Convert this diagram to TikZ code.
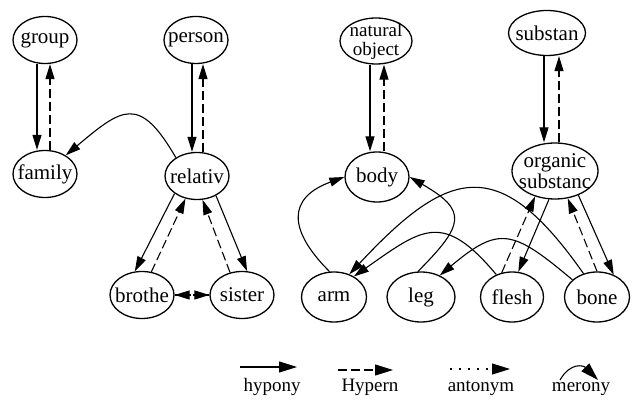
\documentclass[tikz,border=0pt]{standalone}
\usepackage{fontspec}
\setmainfont{Liberation Serif}
\usetikzlibrary{arrows.meta, shapes.geometric}

\newcommand{\cname}[1]{\makebox[0pt]{#1}}

\begin{document}
\begin{tikzpicture}[x=1pt, y=1pt, line width=1.1pt, >={Triangle[length=15pt, width=9pt]},
    hyper/.style={dash pattern=on 9pt off 4pt},
    anto/.style={dash pattern=on 2pt off 7pt},
    legendtext/.style={font=\fontsize{19}{19}\selectfont, anchor=base, inner sep=0pt},
    bigtip/.style={>={Triangle[length=18pt, width=11pt]}}]
  \useasboundingbox (0,0) rectangle (636,399);

  % Concepts
  \begin{scope}[every node/.style={draw, shape=ellipse, line width=1.3pt, inner sep=0pt, minimum width=64pt, minimum height=47pt, align=center, font=\fontsize{21}{21}\selectfont}]

    \node (group)   at (45,359)  {\cname{group}};
    \node (person)  at (196,359) {\cname{person}};
    \node (family)  at (45,225)  {\cname{family}};
    \node (relativ) at (197,223) {\cname{relativ}};
    \node (brothe)  at (142,104) {\cname{brothe}};
    \node (sister)  at (242,104) {\cname{sister}};

    \node[minimum width=72pt, minimum height=46pt, inner ysep=-6pt, font=\fontsize{19}{19}\selectfont] (natobj) at (376,358) {\cname{natural}\\\cname{object}};
    \node[minimum height=50pt] (body) at (377,222) {\cname{body}};
    \node[minimum width=77pt, minimum height=45pt] (substan) at (547,366) {\cname{substan}};
    \node[minimum width=86pt, minimum height=56pt] (organic) at (555,228) {\cname{organic}\\\cname{substanc}};

    \node[minimum width=65pt, minimum height=50pt] (arm)   at (334,102) {\cname{arm}};
    \node[minimum width=68pt, minimum height=50pt] (leg)   at (421,102) {\cname{leg}};
    \node[minimum width=63pt, minimum height=50pt] (flesh) at (512,102) {\cname{flesh}};
    \node[minimum width=65pt, minimum height=50pt] (bone)  at (597,102) {\cname{bone}};

  \end{scope}

  % Hyponym down, hypernym up
  \draw ([xshift=-8pt]group.south) edge[->] ([xshift=-8pt]family.north);
  \draw ([xshift=5pt]family.north) edge[->, hyper] ([xshift=5pt]group.south);

  \draw ([xshift=-4pt]person.south) edge[->] ([xshift=-5pt]relativ.north);
  \draw ([xshift=6pt]relativ.north) edge[->, hyper] ([xshift=7pt]person.south);

  \draw ([xshift=-6pt]natobj.south) edge[->] ([xshift=-7pt]body.north);
  \draw ([xshift=7pt]body.north) edge[->, hyper] ([xshift=8pt]natobj.south);

  \draw ([xshift=-3pt]substan.south) edge[->] ([xshift=-11pt]organic.north);
  \draw ([xshift=4pt]organic.north) edge[->, hyper] ([xshift=12pt]substan.south);

  % Slanted
  \draw (relativ.218) edge[->] (brothe.107);
  \draw (brothe.68) edge[->, hyper] (relativ.243);

  \draw (sister.118) edge[->, hyper] (relativ.283);
  \draw (relativ.314) edge[->] (sister.78);

  \draw (organic.258) edge[->] (flesh.76);
  \draw (flesh.113) edge[->, hyper] (organic.232);

  \draw (bone.90) edge[->, hyper] (organic.295);
  \draw (organic.314) edge[->] (bone.53);

  % Antonym
  \draw (brothe) edge[->, anto] (sister);
  \draw (sister) edge[->, anto] (brothe);

  % Merony
  \draw (relativ.139) edge[->, out=120, in=40, looseness=1.7] (family.42);
  \draw (arm.100) edge[->, out=135, in=200, looseness=1.6] (body.180);
  \draw (leg.97) edge[->, out=45, in=-30, looseness=1.8] (body.0);
  \draw (bone.120) edge[->, out=125, in=47, looseness=1.6] (arm.56);
  \draw (flesh.125) edge[->, out=130, in=35, looseness=1.5] (arm.46);
  \draw (bone.145) edge[->, out=140, in=40, looseness=1.5] (leg.49);

  % Legend
  \coordinate (hypoA)  at (240,32);
  \coordinate (hypoB)  at (297,32);
  \coordinate (hyperA) at (338,29);
  \coordinate (hyperB) at (393,29);
  \coordinate (antoA)  at (450,30);
  \coordinate (antoB)  at (510,30);
  \coordinate (meroA)  at (560,19);
  \coordinate (meroB)  at (598,19);

  \draw[bigtip] (hypoA) edge[->] (hypoB);
  \draw[bigtip] (hyperA) edge[->, hyper] (hyperB);
  \draw[bigtip] (antoA) edge[->, anto] (antoB);
  \draw[bigtip] (meroA) edge[->, out=60, in=135, looseness=1.4] (meroB);

  \node[legendtext] (khypo)  at (272,8) {hypony};
  \node[legendtext] (khyper) at (370,8) {Hypern};
  \node[legendtext] (kanto)  at (481,8) {antonym};
  \node[legendtext] (kmero)  at (581,8) {merony};
\end{tikzpicture}
\end{document}
